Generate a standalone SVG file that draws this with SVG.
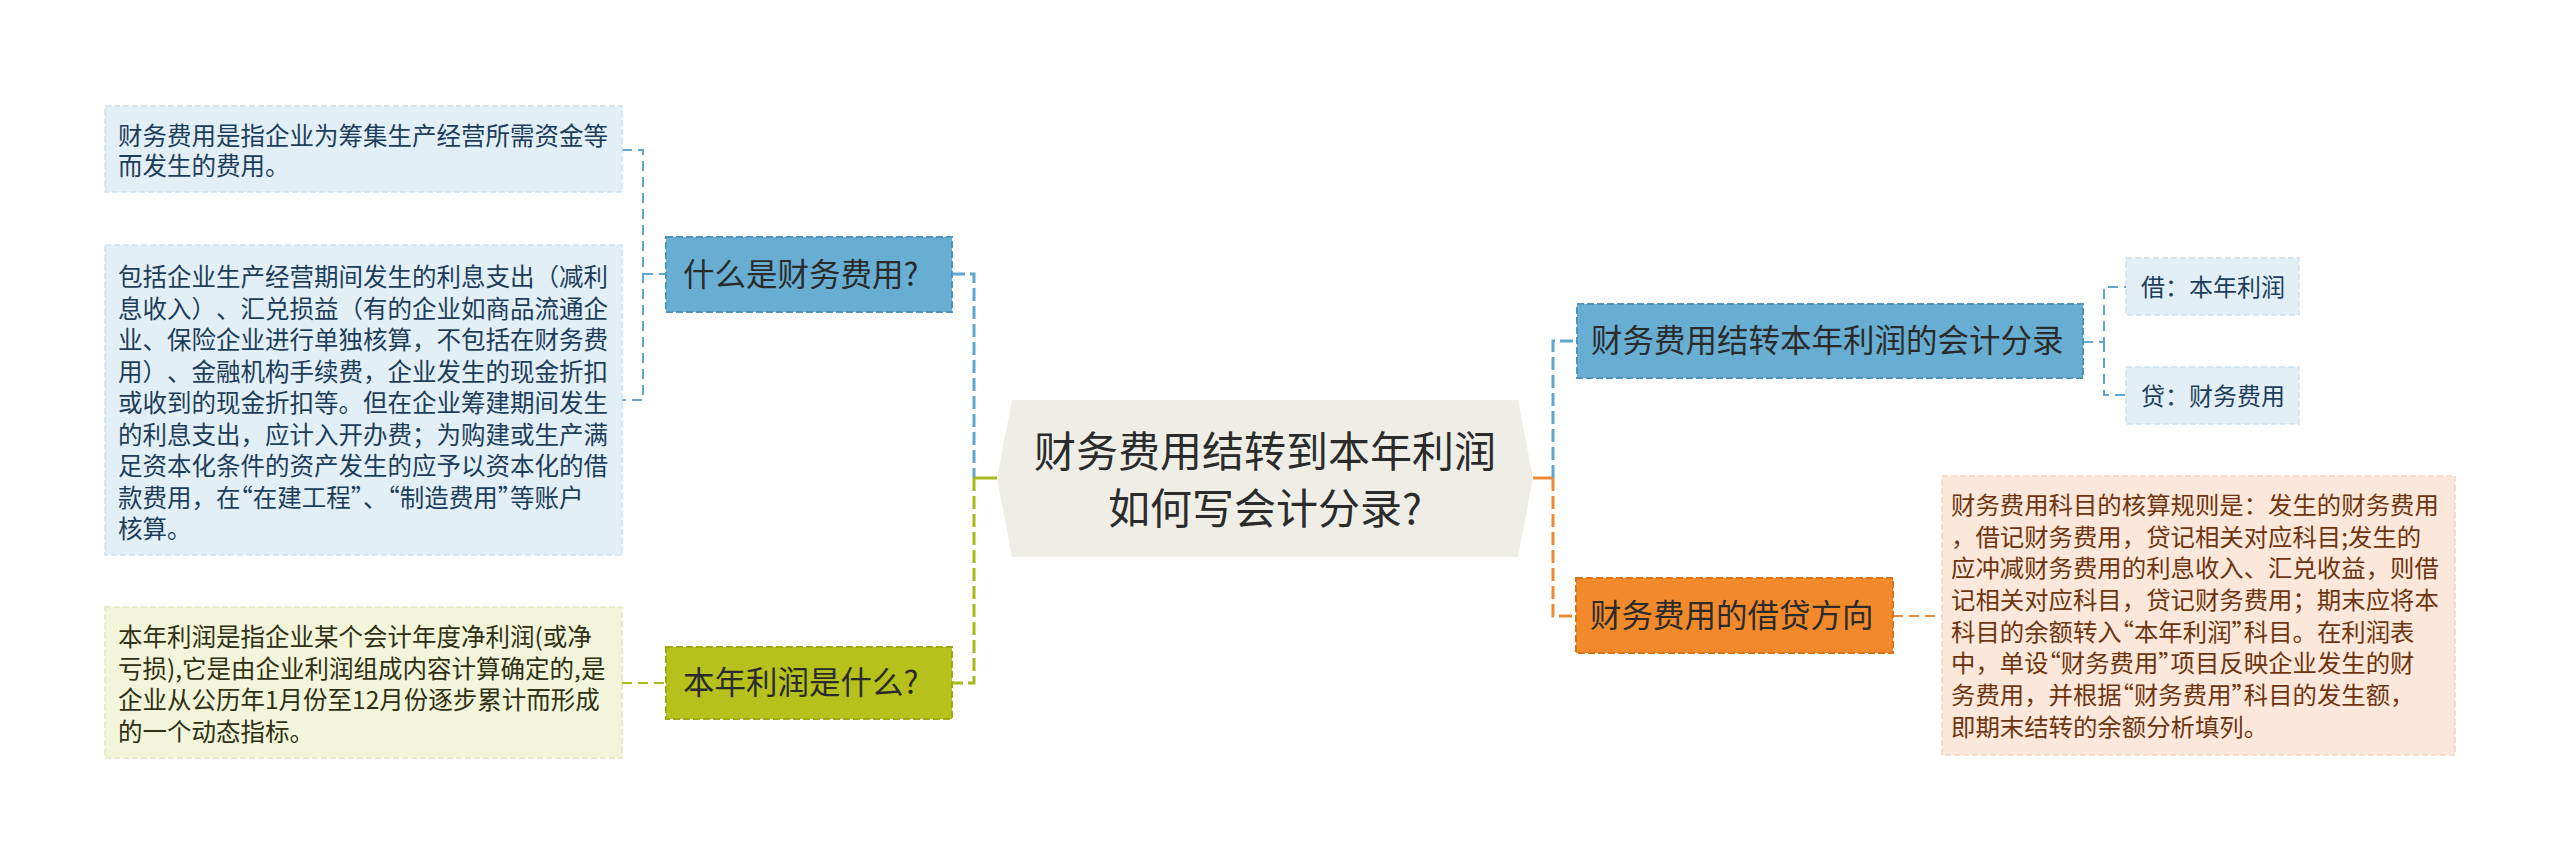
<svg xmlns="http://www.w3.org/2000/svg" width="2560" height="864" viewBox="0 0 2560 864">
<style>
text{font-family:"Noto Sans CJK SC","Noto Sans",sans-serif;text-spacing-trim:space-all;}
.q{font-feature-settings:"halt" 1;}
.leafB rect{fill:#e3eff7;stroke:#cde1ee;stroke-width:1.5;stroke-dasharray:6 3;}
.leafB text{fill:#1d3e5a;font-size:24.5px;}
.leafG rect{fill:#f2f5d9;stroke:#e2e7bd;stroke-width:1.5;stroke-dasharray:6 3;}
.leafG text{fill:#2f3014;font-size:24.5px;}
.leafO rect{fill:#fce8da;stroke:#f3d5c0;stroke-width:1.5;stroke-dasharray:6 3;}
.leafO text{fill:#6e3510;font-size:24.4px;}
.nodeB rect{fill:#68aed3;stroke:#4f94bd;stroke-width:2;stroke-dasharray:7 3;}
.nodeG rect{fill:#b6c21b;stroke:#9eaa10;stroke-width:2;stroke-dasharray:7 3;}
.nodeO rect{fill:#f28a2c;stroke:#d9741b;stroke-width:2;stroke-dasharray:7 3;}
.node text{fill:#2b2b2b;font-size:31.5px;}
.cb{fill:none;stroke:#5fa7d0;}
.cg{fill:none;stroke:#aab91a;}
.co{fill:none;stroke:#ee8a35;}
.thin{stroke-width:2;stroke-dasharray:10 6;}
.thick{stroke-width:3;stroke-dasharray:13 5;}
.solid{stroke-width:3;}
</style>

<g id="connectors">
  <path class="cb thin" d="M622,150 H643 V400 H622"/>
  <path class="cb thin" d="M643,274 H666"/>
  <path class="cg thin" d="M622,683 H666"/>
  <path class="cb thick" d="M952,274 H974 V478"/>
  <path class="cg thick" d="M974,478 V683 H952"/>
  <path class="cg solid" d="M974,478 H997"/>
  <path class="co solid" d="M1533,478 H1553"/>
  <path class="cb thick" d="M1553,478 V341 H1577"/>
  <path class="co thick" d="M1553,478 V616 H1576"/>
  <path class="cb thin" d="M2083,342 H2104 V287 H2126"/>
  <path class="cb thin" d="M2104,342 V395 H2126"/>
  <path class="co thin" d="M1893,616 H1942"/>
</g>

<g id="center">
  <polygon points="997,478 1012,400 1518,400 1533,478 1518,557 1012,557" fill="#eeeee6"/>
  <text x="1265" y="467" text-anchor="middle" font-size="42" fill="#2b2b2b">财务费用结转到本年利润</text>
  <text x="1265" y="524" text-anchor="middle" font-size="42" fill="#2b2b2b">如何写会计分录?</text>
</g>

<g id="node-what-finance" class="node nodeB">
  <rect x="666" y="237" width="286" height="75"/>
  <text x="683" y="286">什么是财务费用?</text>
</g>

<g id="node-what-profit" class="node nodeG">
  <rect x="666" y="647" width="286" height="72"/>
  <text x="683" y="694">本年利润是什么?</text>
</g>

<g id="node-entry" class="node nodeB">
  <rect x="1577" y="304" width="506" height="74"/>
  <text x="1591" y="352">财务费用结转本年利润的会计分录</text>
</g>

<g id="node-direction" class="node nodeO">
  <rect x="1576" y="578" width="317" height="75"/>
  <text x="1590" y="627">财务费用的借贷方向</text>
</g>

<g id="leaf-def" class="leafB">
  <rect x="105" y="106" width="517" height="86"/>
  <text x="118" y="145">财务费用是指企业为筹集生产经营所需资金等</text>
  <text x="118" y="175">而发生的费用。</text>
</g>

<g id="leaf-include" class="leafB">
  <rect x="105" y="245" width="517" height="310"/>
  <text x="118" y="286">包括企业生产经营期间发生的利息支出（减利</text>
  <text x="118" y="317.5">息收入）、汇兑损益（有的企业如商品流通企</text>
  <text x="118" y="349">业、保险企业进行单独核算，不包括在财务费</text>
  <text x="118" y="380.5">用）、金融机构手续费，企业发生的现金折扣</text>
  <text x="118" y="412">或收到的现金折扣等。但在企业筹建期间发生</text>
  <text x="118" y="443.5">的利息支出，应计入开办费；为购建或生产满</text>
  <text x="118" y="475">足资本化条件的资产发生的应予以资本化的借</text>
  <text x="118" y="506.5">款费用，在<tspan class="q">“</tspan>在建工程<tspan class="q">”</tspan>、<tspan class="q">“</tspan>制造费用<tspan class="q">”</tspan>等账户</text>
  <text x="118" y="538">核算。</text>
</g>

<g id="leaf-profit" class="leafG">
  <rect x="105" y="607" width="517" height="151"/>
  <text x="118" y="646">本年利润是指企业某个会计年度净利润(或净</text>
  <text x="118" y="677.5">亏损),它是由企业利润组成内容计算确定的,是</text>
  <text x="118" y="709">企业从公历年1月份至12月份逐步累计而形成</text>
  <text x="118" y="740.5">的一个动态指标。</text>
</g>

<g id="leaf-debit" class="leafB">
  <rect x="2126" y="258" width="173" height="57"/>
  <text x="2141" y="295.5" style="font-size:24px">借：本年利润</text>
</g>

<g id="leaf-credit" class="leafB">
  <rect x="2126" y="367" width="173" height="57"/>
  <text x="2141" y="404.5" style="font-size:24px">贷：财务费用</text>
</g>

<g id="leaf-rule" class="leafO">
  <rect x="1942" y="476" width="513" height="279"/>
  <text x="1951" y="514">财务费用科目的核算规则是：发生的财务费用</text>
  <text x="1951" y="545.7">，借记财务费用，贷记相关对应科目;发生的</text>
  <text x="1951" y="577.3">应冲减财务费用的利息收入、汇兑收益，则借</text>
  <text x="1951" y="609">记相关对应科目，贷记财务费用；期末应将本</text>
  <text x="1951" y="640.7">科目的余额转入<tspan class="q">“</tspan>本年利润<tspan class="q">”</tspan>科目。在利润表</text>
  <text x="1951" y="672.3">中，单设<tspan class="q">“</tspan>财务费用<tspan class="q">”</tspan>项目反映企业发生的财</text>
  <text x="1951" y="704">务费用，并根据<tspan class="q">“</tspan>财务费用<tspan class="q">”</tspan>科目的发生额，</text>
  <text x="1951" y="735.7">即期末结转的余额分析填列。</text>
</g>
</svg>
